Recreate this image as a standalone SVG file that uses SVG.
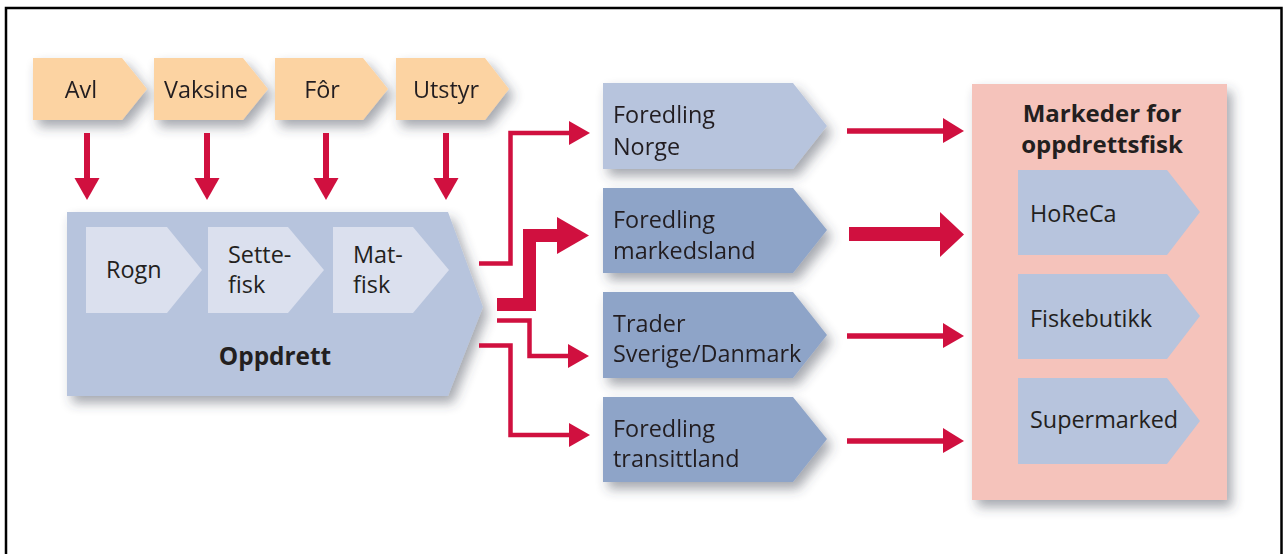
<svg xmlns="http://www.w3.org/2000/svg" width="1284" height="554" viewBox="0 0 1284 554">
<defs>
<filter id="sh" x="-20%" y="-20%" width="150%" height="160%">
<feDropShadow dx="5" dy="7" stdDeviation="6" flood-color="#3a4050" flood-opacity="0.45"/>
</filter>
<style>
text{font-family:"Open Sans","Noto Sans","Liberation Sans",sans-serif;font-size:23.4px;fill:#231F20}
.b{font-weight:bold;font-size:24.4px}
.t{font-size:24px}
.or{fill:#FCD3A2}
.lb{fill:#B7C4DD}
.db{fill:#8EA4C8}
.in{fill:#DBE0EE}
.pk{fill:#F5C3BB}
.ln{fill:none;stroke:#D0103F;stroke-linejoin:miter;stroke-linecap:butt}
.ah{fill:#D0103F}
</style>
</defs>
<rect x="0" y="0" width="1284" height="554" fill="#fff"/>
<rect x="6" y="8" width="1275.5" height="570" fill="none" stroke="#000" stroke-width="2.5"/>

<g id="avl" filter="url(#sh)"><polygon class="or" points="33,58 122,58 147,89 122,120 33,120"/><text x="81" y="98" text-anchor="middle">Avl</text></g>
<g id="vaksine" filter="url(#sh)"><polygon class="or" points="154,58 243,58 268,89 243,120 154,120"/><text x="206" y="98" text-anchor="middle">Vaksine</text></g>
<g id="for" filter="url(#sh)"><polygon class="or" points="275,58 363,58 388,89 363,120 275,120"/><text x="322" y="98" text-anchor="middle">Fôr</text></g>
<g id="utstyr" filter="url(#sh)"><polygon class="or" points="396,58 485,58 509,89 485,120 396,120"/><text x="446" y="98" text-anchor="middle">Utstyr</text></g>

<g id="oppdrett">
<polygon class="lb" filter="url(#sh)" points="67,212 448,212 483,307 448,396 67,396"/>
<polygon class="in" points="86,227 167,227 202,270 167,313 86,313"/>
<polygon class="in" points="208,227 288,227 324,270 288,313 208,313"/>
<polygon class="in" points="333,227 413,227 449,270 413,313 333,313"/>
<text x="106" y="278">Rogn</text>
<text x="228" y="263">Sette-<tspan x="228" y="293">fisk</tspan></text>
<text x="353" y="263">Mat-<tspan x="353" y="293">fisk</tspan></text>
<text class="b" x="275" y="365" text-anchor="middle">Oppdrett</text>
</g>

<g id="foredling-norge" filter="url(#sh)"><polygon class="lb" points="603,83 793,83 827,126 793,169 603,169"/><text x="613" y="123">Foredling<tspan x="613" y="155">Norge</tspan></text></g>
<g id="foredling-markedsland" filter="url(#sh)"><polygon class="db" points="603,188 793,188 827,230 793,273 603,273"/><text x="613" y="228">Foredling<tspan x="613" y="259">markedsland</tspan></text></g>
<g id="trader" filter="url(#sh)"><polygon class="db" points="603,292 793,292 827,335 793,378 603,378"/><text x="613" y="332">Trader<tspan x="613" y="362">Sverige/Danmark</tspan></text></g>
<g id="foredling-transittland" filter="url(#sh)"><polygon class="db" points="603,397 793,397 827,439 793,482 603,482"/><text x="613" y="437">Foredling<tspan x="613" y="467">transittland</tspan></text></g>

<g id="markeder">
<rect class="pk" filter="url(#sh)" x="972" y="84" width="255" height="416"/>
<text class="b t" x="1102" y="121.5" text-anchor="middle">Markeder for</text>
<text class="b t" x="1102" y="152.5" text-anchor="middle">oppdrettsfisk</text>
<polygon class="lb" points="1018,170 1167,170 1200,212 1167,255 1018,255"/><text x="1030" y="222">HoReCa</text>
<polygon class="lb" points="1018,274 1167,274 1200,316 1167,359 1018,359"/><text x="1030" y="327">Fiskebutikk</text>
<polygon class="lb" points="1018,378 1167,378 1200,421 1167,464 1018,464"/><text x="1030" y="428">Supermarked</text>
</g>

<g id="connectors">
<path class="ln" stroke-width="6" d="M87,133V180M207,133V180M326,133V180M446,133V180"/>
<polygon class="ah" points="74.5,178 99.5,178 87,200"/>
<polygon class="ah" points="194.5,178 219.5,178 207,200"/>
<polygon class="ah" points="313.5,178 338.5,178 326,200"/>
<polygon class="ah" points="433.5,178 458.5,178 446,200"/>

<path class="ln" stroke-width="4.5" d="M479,263.5H510.5V133H572"/>
<polygon class="ah" points="569,121 590,133 569,145"/>
<path class="ln" stroke-width="13" d="M497,304.5H529.5V235.5H560"/>
<polygon class="ah" points="557,217 589,235.5 557,254"/>
<path class="ln" stroke-width="4.5" d="M497,320.5H529.5V356H571"/>
<polygon class="ah" points="568,344 589,356 568,368"/>
<path class="ln" stroke-width="4.5" d="M479,345.5H510.5V435H572"/>
<polygon class="ah" points="569,423 590,435 569,447"/>

<path class="ln" stroke-width="5.5" d="M847,131H945"/>
<polygon class="ah" points="943,118 964,131 943,143"/>
<path class="ln" stroke-width="14" d="M849,234H942"/>
<polygon class="ah" points="940,212 964,234.5 940,257"/>
<path class="ln" stroke-width="5.5" d="M847,336H945"/>
<polygon class="ah" points="943,323 964,336 943,348"/>
<path class="ln" stroke-width="5.5" d="M847,441H945"/>
<polygon class="ah" points="943,428 964,441 943,453"/>
</g>
</svg>
